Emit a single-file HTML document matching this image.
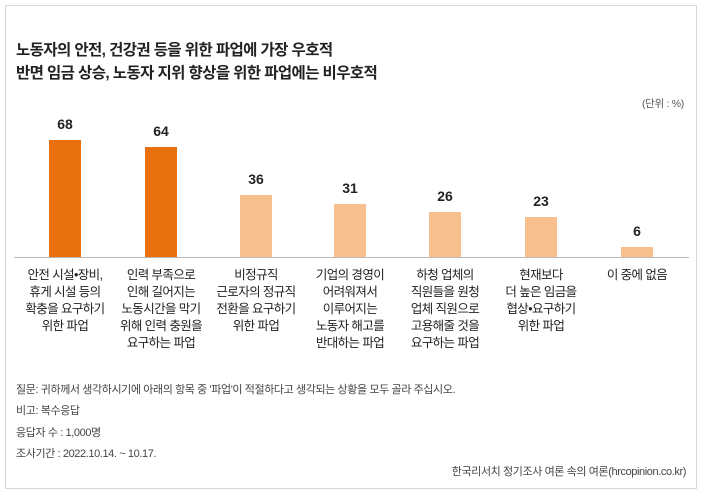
<!DOCTYPE html>
<html><head><meta charset="utf-8"><style>
body{margin:0;width:704px;height:496px;background:#fff;font-family:"Liberation Sans","Noto Sans CJK KR",sans-serif;color:#222;position:relative;overflow:hidden}
.frame{position:absolute;left:5px;top:5px;width:692px;height:484px;border:1px solid #d8d8d8;box-sizing:border-box}
.t{position:absolute;left:16px;font-size:15.5px;font-weight:bold;letter-spacing:-0.6px;color:#222}
.unit{position:absolute;right:20px;top:96px;font-size:10.5px;color:#555;letter-spacing:-0.3px}
.bar{position:absolute;width:32px}
.v{position:absolute;width:60px;text-align:center;font-size:14px;font-weight:bold;color:#222}
.lab{position:absolute;width:96px;text-align:center;font-size:12.5px;line-height:17px;top:267px;letter-spacing:-0.6px;color:#222}
.base{position:absolute;left:14px;width:675px;top:257px;height:1px;background:#bbb}
.f{position:absolute;left:16px;font-size:11px;color:#444;letter-spacing:-0.4px}
</style></head><body>
<div class="frame"></div>
<div class="t" style="top:38px">노동자의 안전, 건강권 등을 위한 파업에 가장 우호적</div>
<div class="t" style="top:61px">반면 임금 상승, 노동자 지위 향상을 위한 파업에는 비우호적</div>
<div class="unit">(단위 : %)</div>
<div class="bar" style="left:49px;top:140px;height:117px;background:#e8700f"></div>
<div class="bar" style="left:145px;top:147px;height:110px;background:#e8700f"></div>
<div class="bar" style="left:240px;top:195px;height:62px;background:#f9c08f"></div>
<div class="bar" style="left:334px;top:204px;height:53px;background:#f9c08f"></div>
<div class="bar" style="left:429px;top:212px;height:45px;background:#f9c08f"></div>
<div class="bar" style="left:525px;top:217px;height:40px;background:#f9c08f"></div>
<div class="bar" style="left:621px;top:247px;height:10px;background:#f9c08f"></div>
<div class="v" style="left:35px;top:116px">68</div>
<div class="v" style="left:131px;top:123px">64</div>
<div class="v" style="left:226px;top:171px">36</div>
<div class="v" style="left:320px;top:180px">31</div>
<div class="v" style="left:415px;top:188px">26</div>
<div class="v" style="left:511px;top:193px">23</div>
<div class="v" style="left:607px;top:223px">6</div>
<div class="base"></div>
<div class="lab" style="left:17px">안전 시설•장비,<br>휴게 시설 등의<br>확충을 요구하기<br>위한 파업</div>
<div class="lab" style="left:113px">인력 부족으로<br>인해 길어지는<br>노동시간을 막기<br>위해 인력 충원을<br>요구하는 파업</div>
<div class="lab" style="left:208px">비정규직<br>근로자의 정규직<br>전환을 요구하기<br>위한 파업</div>
<div class="lab" style="left:302px">기업의 경영이<br>어려워져서<br>이루어지는<br>노동자 해고를<br>반대하는 파업</div>
<div class="lab" style="left:397px">하청 업체의<br>직원들을 원청<br>업체 직원으로<br>고용해줄 것을<br>요구하는 파업</div>
<div class="lab" style="left:493px">현재보다<br>더 높은 임금을<br>협상•요구하기<br>위한 파업</div>
<div class="lab" style="left:589px">이 중에 없음</div>
<div class="f" style="top:381px">질문: 귀하께서 생각하시기에 아래의 항목 중 '파업'이 적절하다고 생각되는 상황을 모두 골라 주십시오.</div>
<div class="f" style="top:402px">비고: 복수응답</div>
<div class="f" style="top:424px">응답자 수 : 1,000명</div>
<div class="f" style="top:445px">조사기간 : 2022.10.14. ~ 10.17.</div>
<div class="f" style="left:auto;right:18px;top:463px">한국리서치 정기조사 여론 속의 여론(hrcopinion.co.kr)</div>
</body></html>
